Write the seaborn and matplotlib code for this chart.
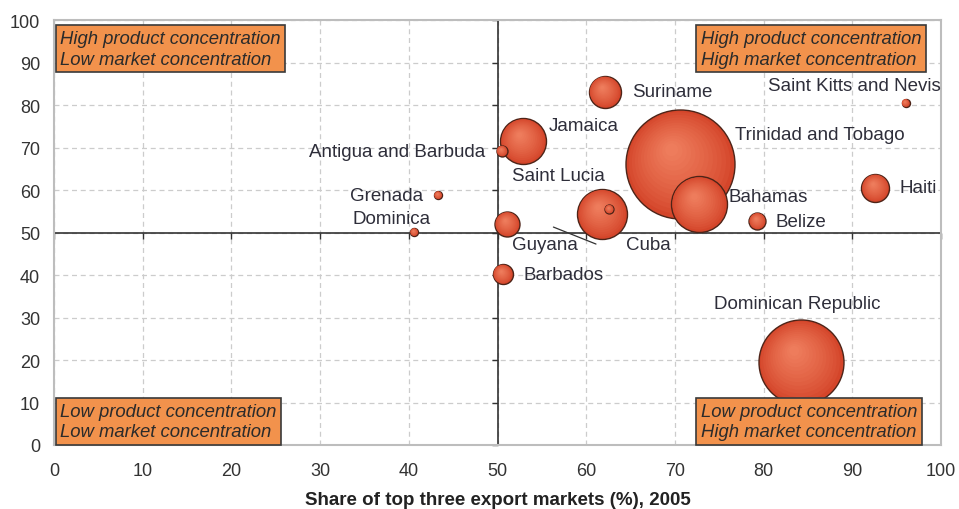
import numpy as np
import pandas as pd
import seaborn as sns
import matplotlib.pyplot as plt
from matplotlib.colors import to_rgb
from matplotlib.transforms import ScaledTranslation

# data
countries = ['Trinidad and Tobago', 'Dominican Republic', 'Bahamas', 'Cuba', 'Jamaica',
             'Suriname', 'Haiti', 'Guyana', 'Barbados', 'Belize', 'Antigua and Barbuda',
             'Saint Lucia', 'Grenada', 'Dominica', 'Saint Kitts and Nevis']
market_share = [70.6, 84.2, 72.7, 61.8, 52.9, 62.1, 92.6, 51.1, 50.6, 79.3, 50.5, 62.6, 43.3, 40.6, 96.0]
product_share = [66.1, 19.5, 56.7, 54.4, 71.5, 83.1, 60.5, 52.0, 40.2, 52.7, 69.2, 55.5, 58.8, 50.1, 80.5]
bubble = [2970, 1806, 784, 625, 529, 256, 196, 156, 100, 72, 30, 20, 16, 16, 16]

# label anchor points (data units) and alignment
label_x = [76.8, 83.8, 76.0, 64.5, 55.8, 65.2, 95.3, 51.6, 52.9, 81.3, 48.6, 51.6, 41.6, 42.5, 80.5]
label_y = [73.2, 33.3, 58.6, 47.1, 75.3, 83.1, 60.5, 47.1, 40.2, 52.7, 69.2, 63.5, 58.8, 53.4, 84.7]
label_ha = ['left', 'center', 'left', 'left', 'left', 'left', 'left', 'left', 'left', 'left',
            'right', 'left', 'right', 'right', 'left']

quadrants = ['High product concentration\nLow market concentration',
             'High product concentration\nHigh market concentration',
             'Low product concentration\nLow market concentration',
             'Low product concentration\nHigh market concentration']
quad_x = [0.7, 72.9, 0.7, 72.9]
quad_y = [97.7, 97.7, 10.0, 10.0]

df = pd.DataFrame({'country': countries, 'x': market_share, 'y': product_share, 'bubble': bubble})

sns.set_style('white')
plt.rcParams['font.family'] = ['Liberation Sans', 'DejaVu Sans']

fig = plt.figure(figsize=(9.59, 5.10), dpi=100)
ax = fig.add_axes([0.0563, 0.1255, 0.925, 0.833])

# bubbles: dark-edged base plus many lighter inner layers for a soft shaded look
k = (2 * 0.72) ** 2
outer, inner = np.array(to_rgb('#D4452A')), np.array(to_rgb('#EE7C5C'))
fracs = np.linspace(1.0, 0.12, 14)
for i, row in df.iterrows():
    r_pt = 0.72 * row['bubble'] ** 0.5
    for j, f in enumerate(fracs):
        t = (1 - f) / (1 - fracs[-1])
        col = outer * (1 - t ** 0.8) + inner * t ** 0.8
        sns.scatterplot(x=[row['x']], y=[row['y']], s=k * row['bubble'] * f * f, color=tuple(col),
                        edgecolor='#4d2418' if j == 0 else 'none', linewidth=1.0 if j == 0 else 0,
                        legend=False, ax=ax, zorder=3 + i * 0.1 + j * 0.001)
        if j > 0:
            shift = (1 - f) * r_pt * 0.3 / 72
            ax.collections[-1].set_offset_transform(
                ax.transData + ScaledTranslation(-shift * 0.6, shift, fig.dpi_scale_trans))

ax.set_xlim(0, 100)
ax.set_ylim(0, 100)
ax.set_xticks(range(0, 101, 10))
ax.set_yticks(range(0, 101, 10))
ax.grid(True, linestyle=(0, (4, 3)), color='#cccccc', linewidth=0.9)
ax.tick_params(length=0, labelsize=13, labelcolor='#333333')
ax.tick_params(axis='x', pad=12)
ax.tick_params(axis='y', pad=10)
for sp in ax.spines.values():
    sp.set_color('#bdbdbd')
    sp.set_linewidth(1.5)

# quadrant dividers with their own ticks
secx = ax.secondary_xaxis(0.5)
secx.set_alignment('bottom')
secx.set_xticks(range(0, 101, 10))
secx.tick_params(labelbottom=False, length=4, color='#333333', width=1)
secx.spines['bottom'].set_color('#333333')
secx.spines['bottom'].set_linewidth(1.2)
secx.set_zorder(1)

secy = ax.secondary_yaxis(0.5)
secy.set_alignment('left')
secy.set_yticks(range(0, 101, 10))
secy.tick_params(labelleft=False, length=4, color='#333333', width=1)
secy.spines['left'].set_color('#333333')
secy.spines['left'].set_linewidth(1.2)
secy.set_zorder(1)

for name, lx, ly, ha in zip(countries, label_x, label_y, label_ha):
    ax.text(lx, ly, name, ha=ha, va='center', fontsize=13.5, color='#2e2e3a', zorder=6)

# leader line near Cuba
ax.plot([56.3, 61.1], [51.3, 47.3], color='#333333', linewidth=0.9, zorder=5)

for txt, qx, qy in zip(quadrants, quad_x, quad_y):
    t = ax.text(qx, qy, txt, ha='left', va='top', fontsize=13.3, style='italic', color='#2b2b2b',
                linespacing=1.3, zorder=7,
                bbox=dict(boxstyle='square,pad=0.25', facecolor='#F2924C', edgecolor='#3a3a3a', linewidth=1.2))
    t.set_clip_on(False)

ax.set_xlabel('Share of top three export markets (%), 2005', fontsize=13.5, fontweight='bold',
              color='#222222', labelpad=9)
ax.set_ylabel('')

fig.savefig('out.png', dpi=100)
